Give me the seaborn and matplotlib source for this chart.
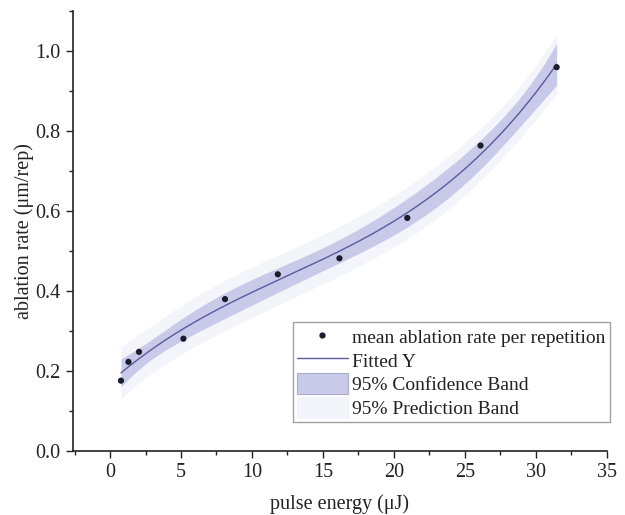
import numpy as np
import pandas as pd
import matplotlib
matplotlib.use("Agg")
import matplotlib.pyplot as plt
import seaborn as sns
from matplotlib.patches import Patch
from matplotlib.lines import Line2D
from matplotlib.ticker import MultipleLocator

# data
pulse_energy = [0.77, 1.30, 2.04, 5.17, 8.10, 11.82, 16.16, 20.94, 26.10, 31.46]
ablation_rate = [0.175, 0.222, 0.247, 0.280, 0.379, 0.441, 0.481, 0.582, 0.763, 0.959]
x_ticks = [0, 5, 10, 15, 20, 25, 30, 35]
y_ticks = [0.0, 0.2, 0.4, 0.6, 0.8, 1.0]

sns.set_theme(style="ticks")
plt.rcParams['font.family'] = ['Liberation Serif', 'DejaVu Serif']

df = pd.DataFrame({"x": pulse_energy, "y": ablation_rate})

# cubic polynomial fit with 95% confidence/prediction bands
order = 3
X = np.vander(df["x"].values, order + 1)
coef, *_ = np.linalg.lstsq(X, df["y"].values, rcond=None)
resid = df["y"].values - X @ coef
dof = len(df) - (order + 1)
s2 = resid @ resid / dof
XtX_inv = np.linalg.inv(X.T @ X)
t_val = 2.447  # t(0.975, 6)
xs = np.linspace(df["x"].min(), df["x"].max(), 300)
Xs = np.vander(xs, order + 1)
ys = Xs @ coef
lev = np.einsum("ij,jk,ik->i", Xs, XtX_inv, Xs)
ci = t_val * np.sqrt(s2 * lev)
pi = t_val * np.sqrt(s2 * (1 + lev))
fit = pd.DataFrame({"x": xs, "y": ys})

fig = plt.figure(figsize=(6.25, 5.15), dpi=100)
ax = fig.add_axes([0.117, 0.125, 0.854, 0.854])

band_c = "#c9c9e9"
band_p = "#f4f4fb"
line_c = "#5a5a9c"

ax.fill_between(xs, ys - pi, ys + pi, color=band_p, lw=0, zorder=1)
ax.fill_between(xs, ys - ci, ys + ci, color=band_c, lw=0, zorder=2)
sns.lineplot(data=fit, x="x", y="y", ax=ax, color=line_c, lw=1.0, zorder=3)
sns.scatterplot(data=df, x="x", y="y", ax=ax, color="#1b1b2b", s=20,
                edgecolor="none", zorder=4)

ax.set_xlim(-2.6, 35)
ax.set_ylim(0, 1.1)
ax.set_xticks(x_ticks)
ax.set_yticks(y_ticks)
ax.set_xticklabels([str(v) for v in x_ticks])
ax.set_yticklabels([f"{v:.1f}" for v in y_ticks])
ax.xaxis.set_minor_locator(MultipleLocator(2.5))
ax.yaxis.set_minor_locator(MultipleLocator(0.1))
ax.tick_params(axis="both", which="major", direction="out", length=5, width=1,
               labelsize=14.5, color="#222222", labelcolor="#222222", pad=4)
ax.tick_params(axis="both", which="minor", direction="out", length=3, width=1,
               color="#222222")
sns.despine(ax=ax)
for sp in ["left", "bottom"]:
    ax.spines[sp].set_linewidth(1.2)
    ax.spines[sp].set_color("#222222")

ax.set_xlabel("pulse energy (μJ)", fontsize=14.5, labelpad=9, color="#222222")
ax.set_ylabel("ablation rate (μm/rep)", fontsize=14.5, labelpad=1, color="#222222")

handles = [
    Line2D([], [], marker="o", color="#1b1b2b", ls="none", markersize=3.5),
    Line2D([], [], color=line_c, lw=1.0),
    Patch(facecolor=band_c, edgecolor="#aaaacc", lw=0.8),
    Patch(facecolor=band_p, edgecolor="#f2f2fa", lw=0.8),
]
labels = ["mean ablation rate per repetition", "Fitted Y",
          "95% Confidence Band", "95% Prediction Band"]
leg = ax.legend(handles, labels, loc="upper right", bbox_to_anchor=(1.006, 0.293),
                fontsize=14, frameon=True, fancybox=False, edgecolor="#888888",
                handlelength=2.6, handleheight=1.3, handletextpad=0.25,
                labelspacing=0.12, borderpad=0.22, borderaxespad=0)
for t in leg.get_texts():
    t.set_color("#222222")
leg.get_frame().set_linewidth(1.0)

fig.savefig("out.png", dpi=100)
